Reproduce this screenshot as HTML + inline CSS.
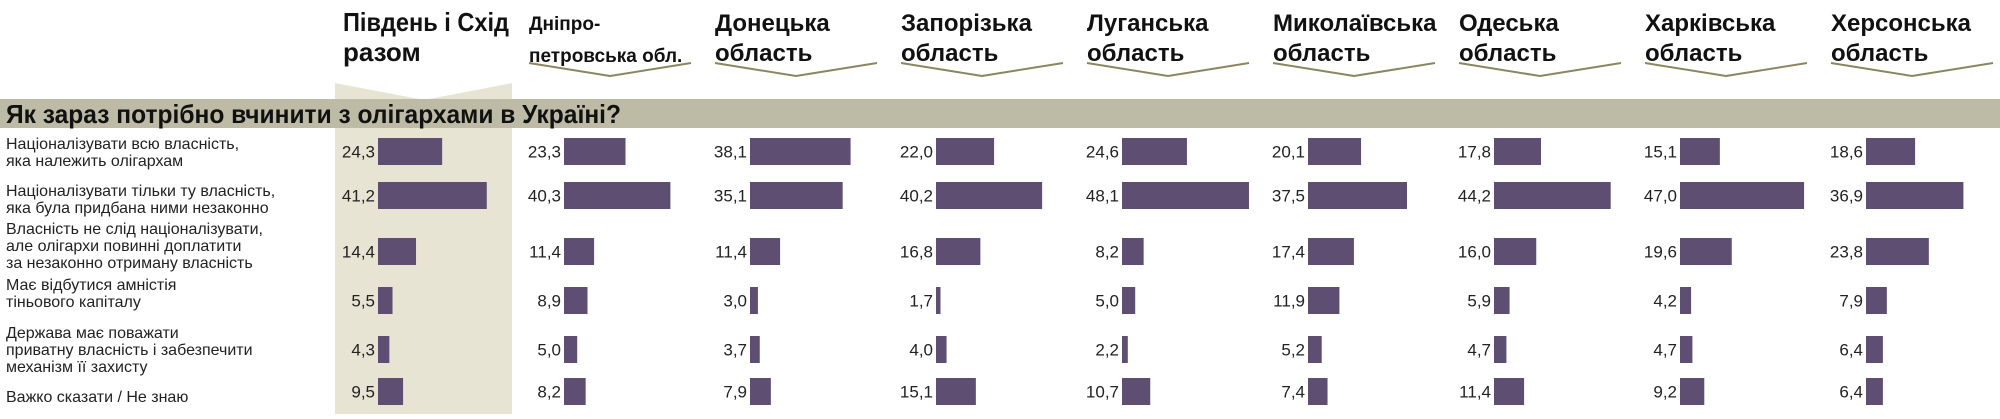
<!DOCTYPE html>
<html><head><meta charset="utf-8"><style>
body{margin:0;background:#fff;width:2000px;height:414px;overflow:hidden}
svg text{font-family:"Liberation Sans Narrow","Liberation Sans",sans-serif}
</style></head><body>
<svg id="chart" width="2000" height="414" viewBox="0 0 2000 414" xmlns="http://www.w3.org/2000/svg">
<polygon points="335,83 424,100 512,83 512,414 335,414" fill="#e8e4d4"/>
<rect x="0" y="99" width="2000" height="29" fill="#bdbba5"/>
<text x="6" y="123" font-size="26" font-weight="bold" fill="#111" textLength="615" lengthAdjust="spacingAndGlyphs" style="font-family:'Liberation Sans',sans-serif">Як зараз потрібно вчинити з олігархами в Україні?</text>
<g id="g"></g>
</svg>
<script>
const regions1 = ["Південь і Схід","Дніпро-","Донецька","Запорізька","Луганська","Миколаївська","Одеська","Харківська","Херсонська"];
const regions2 = ["разом","петровська обл.","область","область","область","область","область","область","область"];
const answers = [
 ["Націоналізувати всю власність,","яка належить олігархам"],
 ["Націоналізувати тільки ту власність,","яка була придбана ними незаконно"],
 ["Власність не слід націоналізувати,","але олігархи повинні доплатити","за незаконно отриману власність"],
 ["Має відбутися амністія","тіньового капіталу"],
 ["Держава має поважати","приватну власність і забезпечити","механізм її захисту"],
 ["Важко сказати / Не знаю"]
];
const row1 = [24.3,23.3,38.1,22.0,24.6,20.1,17.8,15.1,18.6];
const row2 = [41.2,40.3,35.1,40.2,48.1,37.5,44.2,47.0,36.9];
const row3 = [14.4,11.4,11.4,16.8,8.2,17.4,16.0,19.6,23.8];
const row4 = [5.5,8.9,3.0,1.7,5.0,11.9,5.9,4.2,7.9];
const row5 = [4.3,5.0,3.7,4.0,2.2,5.2,4.7,4.7,6.4];
const row6 = [9.5,8.2,7.9,15.1,10.7,7.4,11.4,9.2,6.4];
const rows = [row1,row2,row3,row4,row5,row6];

const NS="http://www.w3.org/2000/svg";
const g=document.getElementById('g');
function el(t,a,txt){const e=document.createElementNS(NS,t);for(const k in a)e.setAttribute(k,a[k]);if(txt!==undefined)e.textContent=txt;g.appendChild(e);return e;}
const colX=i=>378+i*186;
const xLen=v=>v*2.64;
const rowTop=[138,182,238,287,336,378];
const barH=27;
const labelY=[[143,160],[190,207],[228,245,262],[284,301],[332,349,366],[396]];

regions1.forEach((r,i)=>{
  const x=colX(i)-35;
  const fs=i===0?26:(i===1?19:24);
  const a1={x:x,y:i===1?30:31,'font-size':fs,'font-weight':'bold',fill:'#111'};
  if(i===0){a1.textLength=166;a1.lengthAdjust='spacingAndGlyphs';}
  const t1=el('text',a1,r);
  
  
  const t2=el('text',{x:x,y:i===1?62:61,'font-size':fs,'font-weight':'bold',fill:'#111'},regions2[i]);
  
  
  if(i>0){
    const p=el('polyline',{points:`${x},63 ${x+81},76 ${x+162},63`,fill:'none',stroke:'#8a8760','stroke-width':2});
    
    
  }
});

answers.forEach((lines,r)=>{
  lines.forEach((l,k)=>{
    const t=el('text',{x:6,y:labelY[r][k]+6,'font-size':16,fill:'#222'},l);
    
    
  });
  rows[r].forEach((v,i)=>{
    const b=el('rect',{x:colX(i),y:rowTop[r],width:xLen(v),height:barH,fill:'#5e4e72'});
    
    
    const t=el('text',{x:colX(i)-3,y:rowTop[r]+barH/2+6,'font-size':17,fill:'#222','text-anchor':'end'},v.toFixed(1).replace('.',','));
    
    
  });
});
</script>
</body></html>
